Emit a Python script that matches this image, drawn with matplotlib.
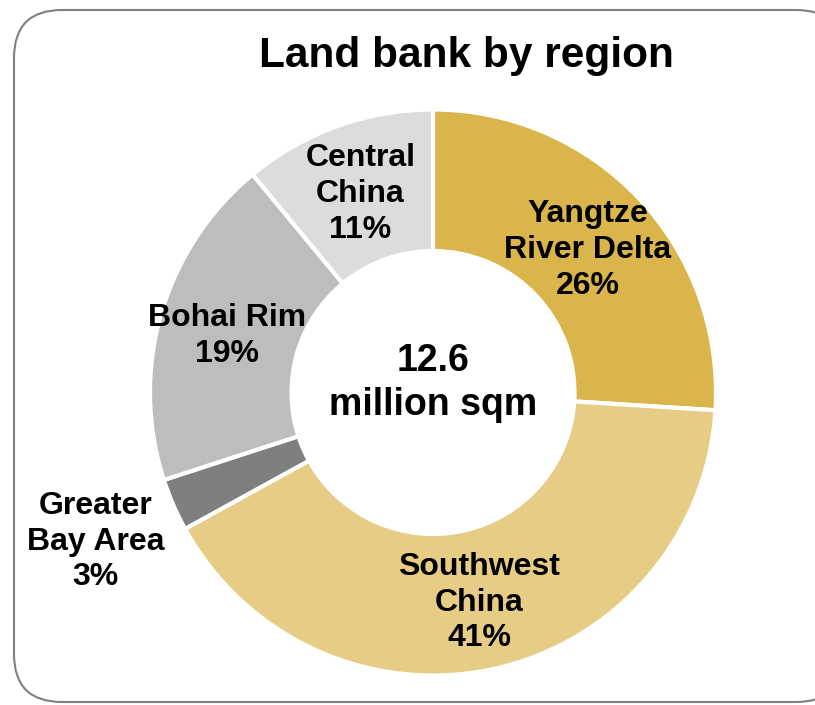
import numpy as np
import matplotlib.pyplot as plt
from matplotlib.patches import FancyBboxPatch

plt.rcParams["font.family"] = ["Liberation Sans", "DejaVu Sans"]

# ==========================================================
# Données
# ==========================================================
regions = ["Yangtze\nRiver Delta", "Southwest\nChina", "Greater\nBay Area",
           "Bohai Rim", "Central\nChina"]
parts = [26, 41, 3, 19, 11]
couleurs = ["#DAB54C", "#E6CC84", "#7F7F7F", "#BDBDBD", "#DCDCDC"]
dist_label = [0.75, 0.75, 1.30, 0.757, 0.757]

total = "12.6\nmillion sqm"
titre = "Land bank by region"

# ==========================================================
# Figure
# ==========================================================
fig = plt.figure(figsize=(8.15, 7.05), dpi=100)
ax = fig.add_axes([0, 0, 1, 1])

# cadre arrondi
cadre = FancyBboxPatch((14, 3), 830, 692,
                       boxstyle="round,pad=0,rounding_size=48",
                       facecolor="white", edgecolor="#808080", linewidth=1.5)
ax.add_patch(cadre)

cx, cy, R = 433, 312.5, 283

wedges, _ = ax.pie(parts, colors=couleurs, startangle=90, counterclock=False,
                   center=(cx, cy), radius=R,
                   wedgeprops=dict(width=R * 0.5, edgecolor="white", linewidth=3),
                   frame=True)
ax.set_xlim(0, 815)
ax.set_ylim(0, 705)
ax.set_aspect("equal")
ax.axis("off")

# étiquettes (décalage vertical léger)
for w, lab, p, dl in zip(wedges, regions, parts, dist_label):
    ang = np.deg2rad((w.theta1 + w.theta2) / 2)
    x = cx + dl * R * np.cos(ang)
    y = cy + dl * R * np.sin(ang) - 3
    ax.text(x, y, f"{lab}\n{p}%", ha="center", va="center",
            fontsize=23, fontweight="bold", linespacing=1.25)

ax.text(cx, cy + 9.5, total, ha="center", va="center",
        fontsize=27, fontweight="bold", linespacing=1.31)

ax.text(466, 649, titre, ha="center", va="center",
        fontsize=30.5, fontweight="bold")

fig.savefig("out.png", dpi=100)
